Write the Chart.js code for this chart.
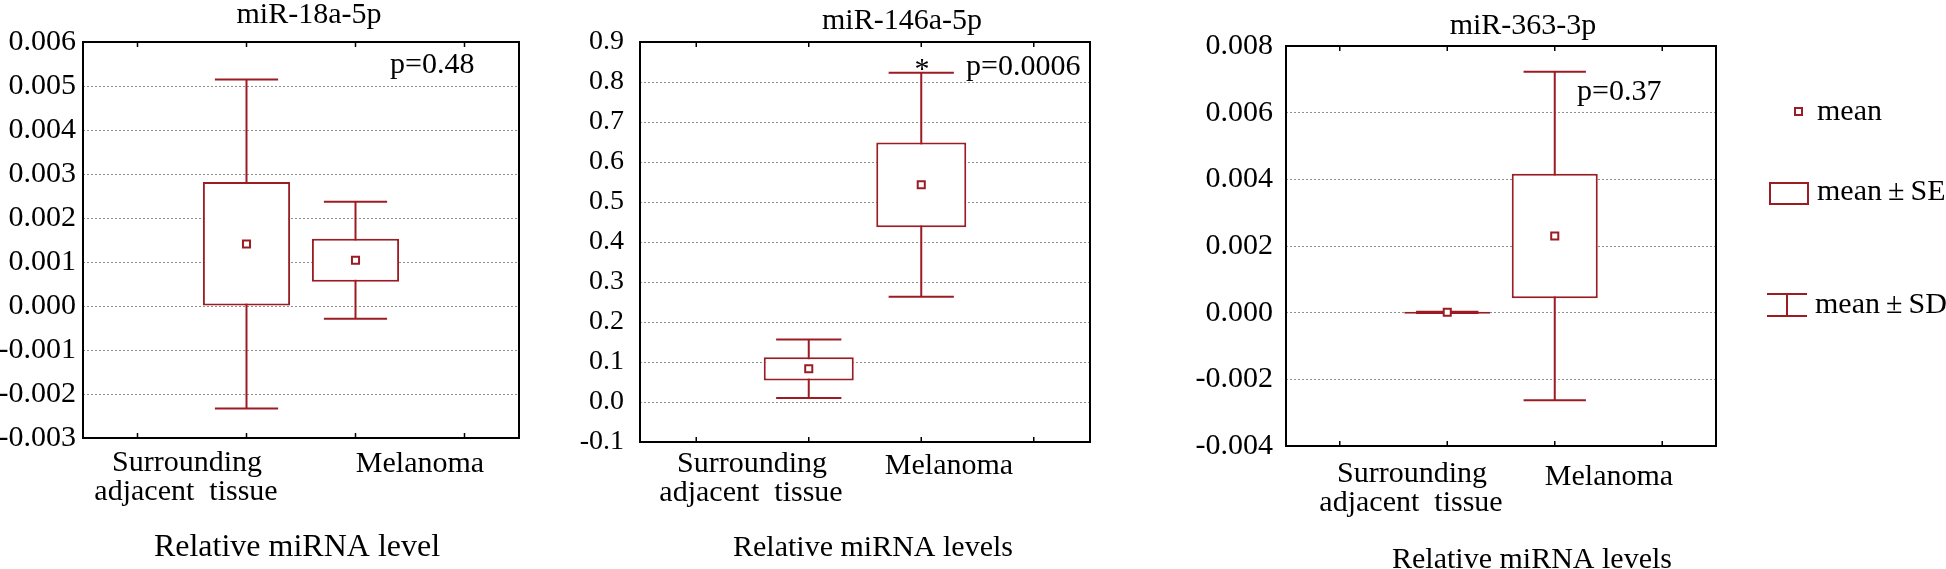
<!DOCTYPE html>
<html>
<head>
<meta charset="utf-8">
<script src="https://cdn.jsdelivr.net/npm/chart.js@4.4.1/dist/chart.umd.min.js"></script>
<style>
  html, body { margin: 0; background: #fff; }
  #wrap { position: relative; width: 1946px; height: 569px; overflow: hidden; }
  #wrap canvas { position: absolute; left: 0; top: 0; }
</style>
</head>
<body>
<div id="wrap">
  <canvas id="c18" width="1946" height="569"></canvas>
  <canvas id="c146" width="1946" height="569"></canvas>
  <canvas id="c363" width="1946" height="569"></canvas>
</div>
<script>
(function () {
  'use strict';

  // data
  var categories = [['Surrounding', 'adjacent  tissue'], ['Melanoma']];
  var titles = ['miR-18a-5p', 'miR-146a-5p', 'miR-363-3p'];
  var xTitles = ['Relative miRNA level', 'Relative miRNA levels', 'Relative miRNA levels'];
  var pValues = ['p=0.48', 'p=0.0006', 'p=0.37'];
  var legendLabels = ['mean', 'mean\u2009\u00b1\u2009SE', 'mean\u2009\u00b1\u2009SD'];

  var mir18Mean = [0.00141, 0.00104];
  var mir18SE = [0.00141, 0.00049];
  var mir18SD = [0.00374, 0.00133];
  var mir18Ticks = [-0.003, -0.002, -0.001, 0, 0.001, 0.002, 0.003, 0.004, 0.005, 0.006];

  var mir146Mean = [0.083, 0.543];
  var mir146SE = [0.029, 0.106];
  var mir146SD = [0.073, 0.280];
  var mir146Ticks = [-0.1, 0, 0.1, 0.2, 0.3, 0.4, 0.5, 0.6, 0.7, 0.8, 0.9];

  var mir363Mean = [0.00001, 0.00230];
  var mir363SE = [0.00001, 0.00187];
  var mir363SD = [0.00002, 0.00493];
  var mir363Ticks = [-0.004, -0.002, 0, 0.002, 0.004, 0.006, 0.008];

  var RED = '#9c1c24';
  var SERIF = '"Liberation Serif", "Times New Roman", serif';
  var W = 1946, H = 569;

  Chart.defaults.font.family = SERIF;
  Chart.defaults.color = '#000';

  function font(size) { return size + 'px ' + SERIF; }

  var meanSdSe = {
    id: 'meanSdSe',
    beforeDatasetsDraw: function (chart, args, o) {
      var ctx = chart.ctx, x = chart.scales.x, y = chart.scales.y;
      var half = (x.getPixelForTick(1) - x.getPixelForTick(0)) * 0.29;
      ctx.save();
      ctx.strokeStyle = RED;
      ctx.lineWidth = 2;
      o.mean.forEach(function (m, i) {
        var px = x.getPixelForValue(i + 1);
        var hi = y.getPixelForValue(m + o.sd[i]);
        var lo = y.getPixelForValue(m - o.sd[i]);
        ctx.beginPath();
        ctx.moveTo(px, hi); ctx.lineTo(px, lo);
        ctx.moveTo(px - half, hi); ctx.lineTo(px + half, hi);
        ctx.moveTo(px - half, lo); ctx.lineTo(px + half, lo);
        ctx.stroke();
      });
      ctx.restore();
    },
    afterDraw: function (chart, args, o) {
      var ctx = chart.ctx, a = chart.chartArea, x = chart.scales.x;
      ctx.save();
      ctx.strokeStyle = '#000';
      ctx.lineWidth = 2;
      ctx.strokeRect(a.left, a.top, a.right - a.left, a.bottom - a.top);
      ctx.lineWidth = 1.5;
      ctx.beginPath();
      for (var i = 0; i < x.ticks.length; i++) {
        var px = x.getPixelForTick(i);
        ctx.moveTo(px, a.top); ctx.lineTo(px, a.top + 5);
        ctx.moveTo(px, a.bottom); ctx.lineTo(px, a.bottom - 5);
      }
      ctx.stroke();
      ctx.fillStyle = '#000';
      ctx.textBaseline = 'alphabetic';
      o.notes.forEach(function (n) {
        ctx.font = font(n.size || 30);
        ctx.textAlign = n.align || 'center';
        ctx.fillText(n.text, n.x, n.y);
      });
      ctx.restore();
    }
  };

  var keyBox = {
    id: 'keyBox',
    afterDraw: function (chart) {
      var ctx = chart.ctx;
      ctx.save();
      ctx.strokeStyle = RED;
      ctx.lineWidth = 2;
      ctx.fillStyle = '#fff';
      ctx.fillRect(1795, 108, 7, 7);
      ctx.strokeRect(1795, 108, 7, 7);
      ctx.strokeRect(1770, 183, 38, 21);
      ctx.beginPath();
      ctx.moveTo(1767, 294); ctx.lineTo(1807, 294);
      ctx.moveTo(1767, 316); ctx.lineTo(1807, 316);
      ctx.moveTo(1787, 294); ctx.lineTo(1787, 316);
      ctx.stroke();
      ctx.fillStyle = '#000';
      ctx.font = font(30);
      ctx.textAlign = 'left';
      ctx.fillText(legendLabels[0], 1817, 120);
      ctx.fillText(legendLabels[1], 1817, 200);
      ctx.fillText(legendLabels[2], 1815, 313);
      ctx.restore();
    }
  };

  function catNotes(c0x, c0y, c1x, c1y) {
    return [
      { text: categories[0][0], x: c0x, y: c0y },
      { text: categories[0][1], x: c0x - 1, y: c0y + 29 },
      { text: categories[1][0], x: c1x, y: c1y }
    ];
  }

  function panel(id, p, extra) {
    var labels = [''].concat(categories.map(function (c) { return c.join(' '); }), ['']);
    var boxes = p.mean.map(function (m, i) { return [m - p.se[i], m + p.se[i]]; });
    new Chart(document.getElementById(id), {
      type: 'bar',
      data: {
        labels: labels,
        datasets: [{
          type: 'line',
          label: 'mean',
          data: [null].concat(p.mean, [null]),
          showLine: false,
          pointStyle: 'rect',
          pointRadius: 5,
          pointBorderWidth: 2,
          pointBorderColor: RED,
          pointBackgroundColor: '#fff',
          order: 0
        }, {
          label: 'mean \u00b1 SE',
          data: [null].concat(boxes, [null]),
          backgroundColor: '#fff',
          borderColor: RED,
          borderWidth: 2,
          borderSkipped: false,
          barPercentage: 0.8,
          categoryPercentage: 1,
          minBarLength: 2,
          order: 1
        }]
      },
      options: {
        responsive: false,
        animation: false,
        events: [],
        layout: { padding: { left: 0, top: p.box[1], right: W - p.box[2], bottom: 0 } },
        plugins: {
          legend: { display: false },
          tooltip: { enabled: false },
          meanSdSe: { mean: p.mean, sd: p.sd, notes: p.notes }
        },
        scales: {
          x: {
            grid: { display: false },
            border: { display: false },
            ticks: { display: false },
            afterFit: function (s) { s.height = H - p.box[3]; }
          },
          y: {
            min: p.ticks[0],
            max: p.ticks[p.ticks.length - 1],
            afterBuildTicks: function (s) {
              s.ticks = p.ticks.map(function (v) { return { value: v }; });
            },
            ticks: {
              padding: p.pad,
              color: '#000',
              font: { size: p.tickSize },
              callback: function (v) { return v.toFixed(p.dec); }
            },
            grid: { color: '#8f8f8f', lineWidth: 1, drawTicks: false },
            border: { display: false, dash: [2, 2] },
            afterFit: function (s) { s.width = p.box[0]; }
          }
        }
      },
      plugins: [meanSdSe].concat(extra || [])
    });
  }

  panel('c18', {
    box: [83, 42, 519, 438], pad: 7, dec: 3, tickSize: 30, ticks: mir18Ticks,
    mean: mir18Mean, se: mir18SE, sd: mir18SD,
    notes: [
      { text: titles[0], x: 309, y: 23 },
      { text: pValues[0], x: 390, y: 73, align: 'left' },
      { text: xTitles[0], x: 297, y: 556, size: 32 }
    ].concat(catNotes(187, 471, 420, 472))
  });

  panel('c146', {
    box: [640, 42, 1090, 442], pad: 16, dec: 1, tickSize: 28, ticks: mir146Ticks,
    mean: mir146Mean, se: mir146SE, sd: mir146SD,
    notes: [
      { text: titles[1], x: 902, y: 29 },
      { text: '*', x: 922, y: 78 },
      { text: pValues[1], x: 966, y: 75, align: 'left' },
      { text: xTitles[1], x: 873, y: 556 }
    ].concat(catNotes(752, 472, 949, 474))
  });

  panel('c363', {
    box: [1286, 46, 1716, 446], pad: 13, dec: 3, tickSize: 30, ticks: mir363Ticks,
    mean: mir363Mean, se: mir363SE, sd: mir363SD,
    notes: [
      { text: titles[2], x: 1523, y: 34 },
      { text: pValues[2], x: 1577, y: 100, align: 'left' },
      { text: xTitles[2], x: 1532, y: 568 }
    ].concat(catNotes(1412, 482, 1609, 485))
  }, [keyBox]);
})();
</script>
</body>
</html>
